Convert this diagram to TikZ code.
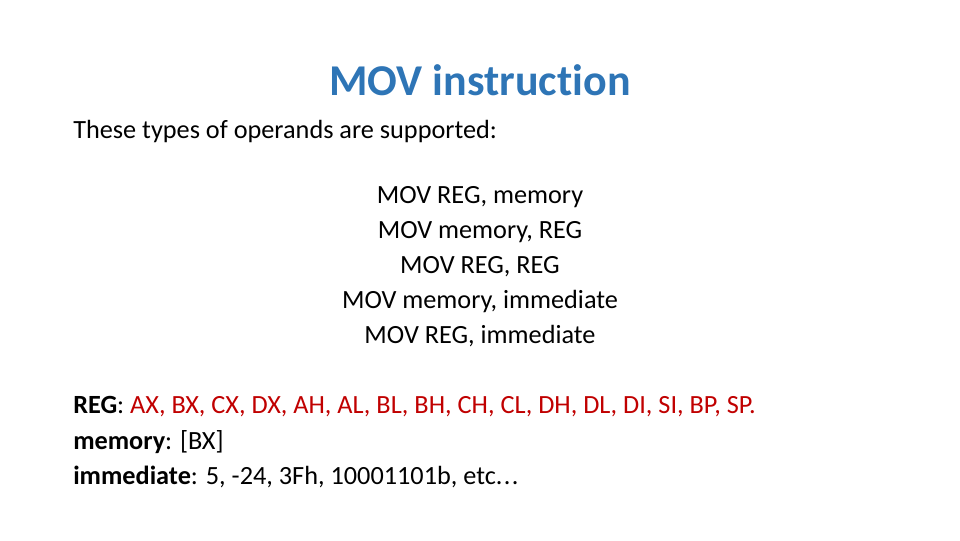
\documentclass[tikz,border=0pt]{standalone}
\usepackage{fontspec}
\setmainfont[Ligatures={NoCommon}]{Carlito}
\definecolor{titleblue}{RGB}{46,117,182}
\definecolor{regred}{RGB}{192,0,0}
\begin{document}
\begin{tikzpicture}[x=0.75pt, y=-0.75pt,
    title/.style={font=\fontsize{33}{40}\selectfont\bfseries, text=titleblue, inner sep=0pt},
    body/.style={font=\fontsize{19.7}{24}\selectfont, inner sep=0pt}
]
    \useasboundingbox (0,0) rectangle (960,540);
    % Title
    \node[title] (head) at (480,80) {MOV instruction};
    \node[body, anchor=west] (intro) at (73,131) {These types of operands are supported:};

    % Operand forms
    \node[body] (f1) at (480,197) {MOV REG, memory};
    \node[body] (f2) at (480,232) {MOV memory, REG};
    \node[body] (f3) at (480,267) {MOV REG, REG};
    \node[body] (f4) at (480,301) {MOV memory, immediate};
    \node[body] (f5) at (480,336) {MOV REG, immediate};

    % Legend
    \node[body, anchor=west] (reg) at (73,407) {\textbf{REG}: \textcolor{regred}{AX, BX, CX, DX, AH, AL, BL, BH, CH, CL, DH, DL, DI, SI, BP, SP.}};
    \node[body, anchor=west] (mem) at (73,442) {\textbf{memory}: [BX]};
    \node[body, anchor=west] (imm) at (73,477) {\textbf{immediate}: 5, -24, 3Fh, 10001101b, etc.\kern1pt.\kern1pt.};
\end{tikzpicture}
\end{document}
